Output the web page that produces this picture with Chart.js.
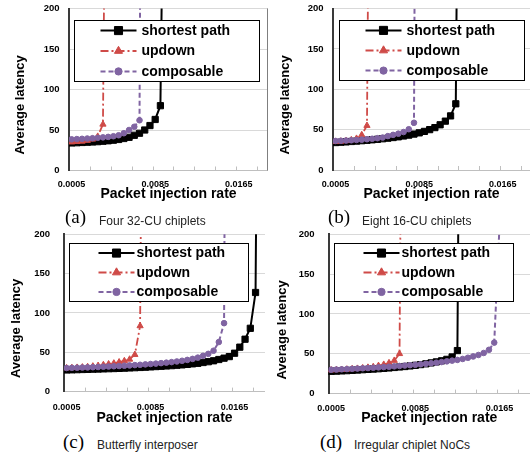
<!DOCTYPE html>
<html>
<head>
<meta charset="utf-8">
<script src="https://cdn.jsdelivr.net/npm/chart.js@4.4.1/dist/chart.umd.min.js"></script>
<style>
  body { margin: 0; background: #fff; width: 530px; height: 452px; position: relative; overflow: hidden; }
  canvas { position: absolute; }
  .cap { position: absolute; white-space: nowrap; line-height: 12px; font: 12px "Liberation Sans", Arial, sans-serif; color: #222; }
  .tag { position: absolute; white-space: nowrap; line-height: 19px; font: 19px "Liberation Serif", "Times New Roman", serif; color: #000; }
</style>
</head>
<body>
<canvas id="chartA"></canvas>
<canvas id="chartB"></canvas>
<canvas id="chartC"></canvas>
<canvas id="chartD"></canvas>

<span class="tag" style="left:65px;top:206px">(a)</span>
<span class="cap" style="left:99px;top:214px">Four 32-CU chiplets</span>
<span class="tag" style="left:328px;top:206px">(b)</span>
<span class="cap" style="left:362px;top:214px">Eight 16-CU chiplets</span>
<span class="tag" style="left:63px;top:431px">(c)</span>
<span class="cap" style="left:97px;top:438px">Butterfly interposer</span>
<span class="tag" style="left:320px;top:431px">(d)</span>
<span class="cap" style="left:354px;top:438px">Irregular chiplet NoCs</span>

<script>
// Packet injection rates (x values)
const rates = [0.0005, 0.001, 0.0015, 0.002, 0.0025, 0.003, 0.0035, 0.004, 0.0045, 0.005,
  0.0055, 0.006, 0.0065, 0.007, 0.0075, 0.008, 0.0085, 0.009, 0.0095, 0.01,
  0.0105, 0.011, 0.0115, 0.012, 0.0125, 0.013, 0.0135, 0.014, 0.0145, 0.015,
  0.0155, 0.016, 0.0165, 0.017, 0.0175, 0.018, 0.0185, 0.019];
const xTickLabels = ['0.0005', '0.0085', '0.0165'];
const yTicks = [0, 50, 100, 150, 200];
const seriesNames = ['shortest path', 'updown', 'composable'];

// (a) Four 32-CU chiplets
const aShortest = [34, 34.3, 34.6, 34.9, 35.2, 35.6, 36.1, 36.7, 37.4, 38.3, 39.5, 41, 43.5, 46, 50, 55.5, 63, 80, 600];
const aUpdown = [35, 35.5, 36, 37, 38.5, 42, 57, 800];
const aComposable = [38.5, 38.8, 39.1, 39.5, 39.9, 40.4, 40.9, 41.5, 42.3, 43.5, 46, 50, 54, 62, 1500];

// (b) Eight 16-CU chiplets
const bShortest = [34, 34.4, 34.8, 35.3, 35.8, 36.3, 36.8, 37.4, 38, 38.7, 39.4, 40.2, 41.1, 42.1, 43.2, 44.5, 46, 47.8, 50, 52.5, 56, 60.5, 67, 82, 900];
const bUpdown = [35, 35.5, 36.2, 37.2, 39, 43.5, 55, 900];
const bComposable = [36, 36.2, 36.5, 36.8, 37.2, 37.6, 38.1, 38.7, 39.4, 40.2, 42, 43.5, 45, 47, 50.5, 58.5, 1500];

// (c) Butterfly interposer
const cShortest = [27.5, 27.7, 27.9, 28.1, 28.3, 28.5, 28.7, 28.9, 29.1, 29.3, 29.5, 29.8, 30.1, 30.4, 30.7, 31, 31.4, 31.8, 32.2, 32.6, 33, 33.5, 34, 34.6, 35.3, 36, 37, 38, 39.2, 40.8, 42.5, 44.5, 48.8, 56.5, 66.6, 80.5, 126, 1000];
const cUpdown = [30, 30.3, 30.6, 31, 31.5, 32.2, 33, 34, 35, 36, 37.5, 39, 41, 47, 83.5, 1000];
const cComposable = [30, 30.2, 30.4, 30.6, 30.8, 31, 31.3, 31.6, 31.9, 32.2, 32.5, 32.9, 33.3, 33.7, 34.1, 34.6, 35.1, 35.6, 36.2, 36.8, 37.5, 38.3, 39.2, 40.3, 41.6, 43.2, 45.5, 48, 52, 63, 87, 1500];

// (d) Irregular chiplet NoCs
const dShortest = [28, 28.2, 28.5, 28.8, 29.2, 29.6, 30, 30.4, 30.8, 31.2, 31.7, 32.2, 32.8, 33.4, 34, 34.7, 35.5, 36.4, 37.4, 38.5, 39.8, 41.2, 43, 46, 54, 1000];
const dUpdown = [29.5, 29.8, 30.1, 30.5, 31, 31.5, 32.1, 32.8, 33.6, 35, 36.5, 38.5, 41.5, 50, 1000];
const dComposable = [30, 30.2, 30.5, 30.8, 31.1, 31.4, 31.8, 32.1, 32.5, 32.9, 33.3, 33.7, 34.2, 34.7, 35.2, 35.7, 36.2, 36.8, 37.4, 38.1, 38.8, 39.6, 40.5, 41.4, 42.3, 43.5, 45, 46.7, 48.5, 51, 55, 64, 210];

const xMin = 0.00025;
const minorStep = 0.002;
const FONT = '"Liberation Sans", Arial, sans-serif';
Chart.defaults.font.family = FONT;

// Line styles for the three series
const styles = [
  { color: '#000000', dash: [], point: 'rect', radius: 4.4, width: 2, order: 2 },
  { color: '#CF4B48', dash: [8, 3, 2, 3], point: 'triangle', radius: 3.6, width: 1.8, order: 1 },
  { color: '#8064A2', dash: [5, 3], point: 'circle', radius: 2.8, width: 2, order: 0 }
];

// Legend box, inner tick marks and rotated y title
const panelDecor = {
  id: 'panelDecor',
  afterDatasetsDraw(chart, args, opts) {
    const { ctx, chartArea: a, scales: { x } } = chart;
    ctx.save();

    ctx.strokeStyle = '#bfbfbf';
    ctx.lineWidth = 1;
    for (let v = xMin + minorStep; v < x.max; v += minorStep) {
      const px = Math.round(x.getPixelForValue(v)) + 0.5;
      ctx.beginPath();
      ctx.moveTo(px, a.bottom);
      ctx.lineTo(px, a.bottom - 4);
      ctx.stroke();
    }

    if (opts.rightBorder) {
      ctx.strokeStyle = '#7f7f7f';
      ctx.beginPath();
      ctx.moveTo(a.right - 0.5, a.top);
      ctx.lineTo(a.right - 0.5, a.bottom);
      ctx.stroke();
    }

    const L = opts.legend;
    const bx = Math.round(a.left + L.x) + 0.5;
    const by = Math.round(a.top + L.y) + 0.5;
    ctx.fillStyle = '#fff';
    ctx.fillRect(bx, by, L.w, L.h);
    ctx.strokeStyle = '#000';
    ctx.lineWidth = 1;
    ctx.strokeRect(bx, by, L.w, L.h);

    const rows = [0.165, 0.5, 0.835];
    chart.data.datasets.forEach((ds, i) => {
      const cy = by + L.h * rows[i];
      ctx.strokeStyle = ds.borderColor;
      ctx.lineWidth = ds.borderWidth;
      ctx.setLineDash(ds.borderDash);
      ctx.beginPath();
      ctx.moveTo(bx + L.lineX, cy);
      ctx.lineTo(bx + L.lineX + 36, cy);
      ctx.stroke();
      ctx.setLineDash([]);
      ctx.fillStyle = ds.borderColor;
      ctx.lineWidth = 1;
      Chart.helpers.drawPoint(ctx, { pointStyle: ds.pointStyle, radius: ds.pointRadius * 1.3, rotation: 0, borderWidth: 1 }, bx + L.lineX + 18, cy);
      ctx.fillStyle = '#000';
      ctx.font = 'bold 14px ' + FONT;
      ctx.textAlign = 'left';
      ctx.textBaseline = 'middle';
      ctx.fillText(ds.label, bx + L.textX, cy + 0.5);
    });

    ctx.translate(opts.yTitleX, opts.yTitleY);
    ctx.rotate(-Math.PI / 2);
    ctx.fillStyle = '#000';
    ctx.font = 'bold 13px ' + FONT;
    ctx.textAlign = 'center';
    ctx.textBaseline = 'middle';
    ctx.fillText('Average latency', 0, 0);
    ctx.restore();
  }
};

const panels = [
  { id: 'chartA', left: 0, top: 0, w: 268, areaLeft: 69, areaTop: 8.5, areaBottom: 170.5, xMax: 0.0193,
    xTickPad: 8.6, xHeight: 32.5, yTickPad: 9.4, yTitleX: 20.7, yTitleY: 105, rightBorder: true,
    legend: { x: 5.3, y: 11.5, w: 185, h: 61, lineX: 26, textX: 67 },
    series: [aShortest, aUpdown, aComposable] },
  { id: 'chartB', left: 265, top: 0, w: 265, areaLeft: 68, areaTop: 8.5, areaBottom: 169.5, xMax: 0.0191,
    xTickPad: 8.7, xHeight: 33, yTickPad: 9.4, yTitleX: 20.7, yTitleY: 105, rightBorder: false,
    legend: { x: 6, y: 11.5, w: 185, h: 60, lineX: 26, textX: 67 },
    series: [bShortest, bUpdown, bComposable] },
  { id: 'chartC', left: 0, top: 226, w: 265, areaLeft: 64, areaTop: 8.3, areaBottom: 165.7, xMax: 0.0194,
    xTickPad: 10.9, xHeight: 35.4, yTickPad: 14, yTitleX: 16.7, yTitleY: 102.5, rightBorder: false,
    legend: { x: 5.3, y: 9, w: 179, h: 58, lineX: 29, textX: 67 },
    series: [cShortest, cUpdown, cComposable] },
  { id: 'chartD', left: 265, top: 226, w: 265, areaLeft: 63.5, areaTop: 8.3, areaBottom: 167.7, xMax: 0.0194,
    xTickPad: 9.9, xHeight: 33.4, yTickPad: 14, yTitleX: 17.3, yTitleY: 104, rightBorder: false,
    legend: { x: 5.8, y: 9, w: 179, h: 58, lineX: 29, textX: 67 },
    series: [dShortest, dUpdown, dComposable] }
];

panels.forEach(p => {
  const canvas = document.getElementById(p.id);
  canvas.width = p.w;
  canvas.height = Math.round(p.areaBottom + p.xHeight);
  canvas.style.left = p.left + 'px';
  canvas.style.top = p.top + 'px';

  const datasets = p.series.map((values, i) => {
    const s = styles[i];
    return {
      label: seriesNames[i],
      data: values.map((v, k) => ({ x: rates[k], y: v })),
      borderColor: s.color,
      backgroundColor: s.color,
      borderWidth: s.width,
      borderDash: s.dash,
      pointStyle: s.point,
      pointRadius: s.radius,
      pointBackgroundColor: s.color,
      pointBorderColor: s.color,
      pointBorderWidth: 1,
      tension: 0,
      order: s.order
    };
  });

  new Chart(canvas, {
    type: 'line',
    data: { datasets: datasets },
    plugins: [panelDecor],
    options: {
      responsive: false,
      animation: false,
      events: [],
      layout: { autoPadding: false, padding: { top: p.areaTop, left: 0, right: 0, bottom: 0 } },
      plugins: {
        legend: { display: false },
        tooltip: { enabled: false },
        panelDecor: { legend: p.legend, yTitleX: p.yTitleX, yTitleY: p.yTitleY, rightBorder: p.rightBorder }
      },
      scales: {
        x: {
          type: 'linear',
          min: xMin,
          max: p.xMax,
          afterBuildTicks: s => { s.ticks = xTickLabels.map(l => ({ value: Number(l) })); },
          afterFit: s => { s.height = p.xHeight; s.paddingLeft = 0; s.paddingRight = 0; },
          grid: { display: false, drawTicks: false },
          border: { color: '#bfbfbf', width: 1 },
          ticks: {
            padding: p.xTickPad,
            color: '#000',
            autoSkip: false,
            maxRotation: 0,
            font: { size: 9, weight: 'bold' },
            callback: (v, i) => xTickLabels[i]
          },
          title: {
            display: true,
            text: 'Packet injection rate',
            color: '#000',
            padding: 0,
            font: { size: 14, weight: 'bold' }
          }
        },
        y: {
          min: 0,
          max: 200,
          afterBuildTicks: s => { s.ticks = yTicks.map(v => ({ value: v })); },
          afterFit: s => { s.width = p.areaLeft; s.paddingTop = 0; s.paddingBottom = 0; },
          grid: { color: '#d9d9d9', drawTicks: false },
          border: { color: '#3a3a3a', width: 2 },
          ticks: {
            padding: p.yTickPad,
            color: '#000',
            font: { size: 9.5, weight: 'bold' }
          }
        }
      }
    }
  });
});
</script>
</body>
</html>
